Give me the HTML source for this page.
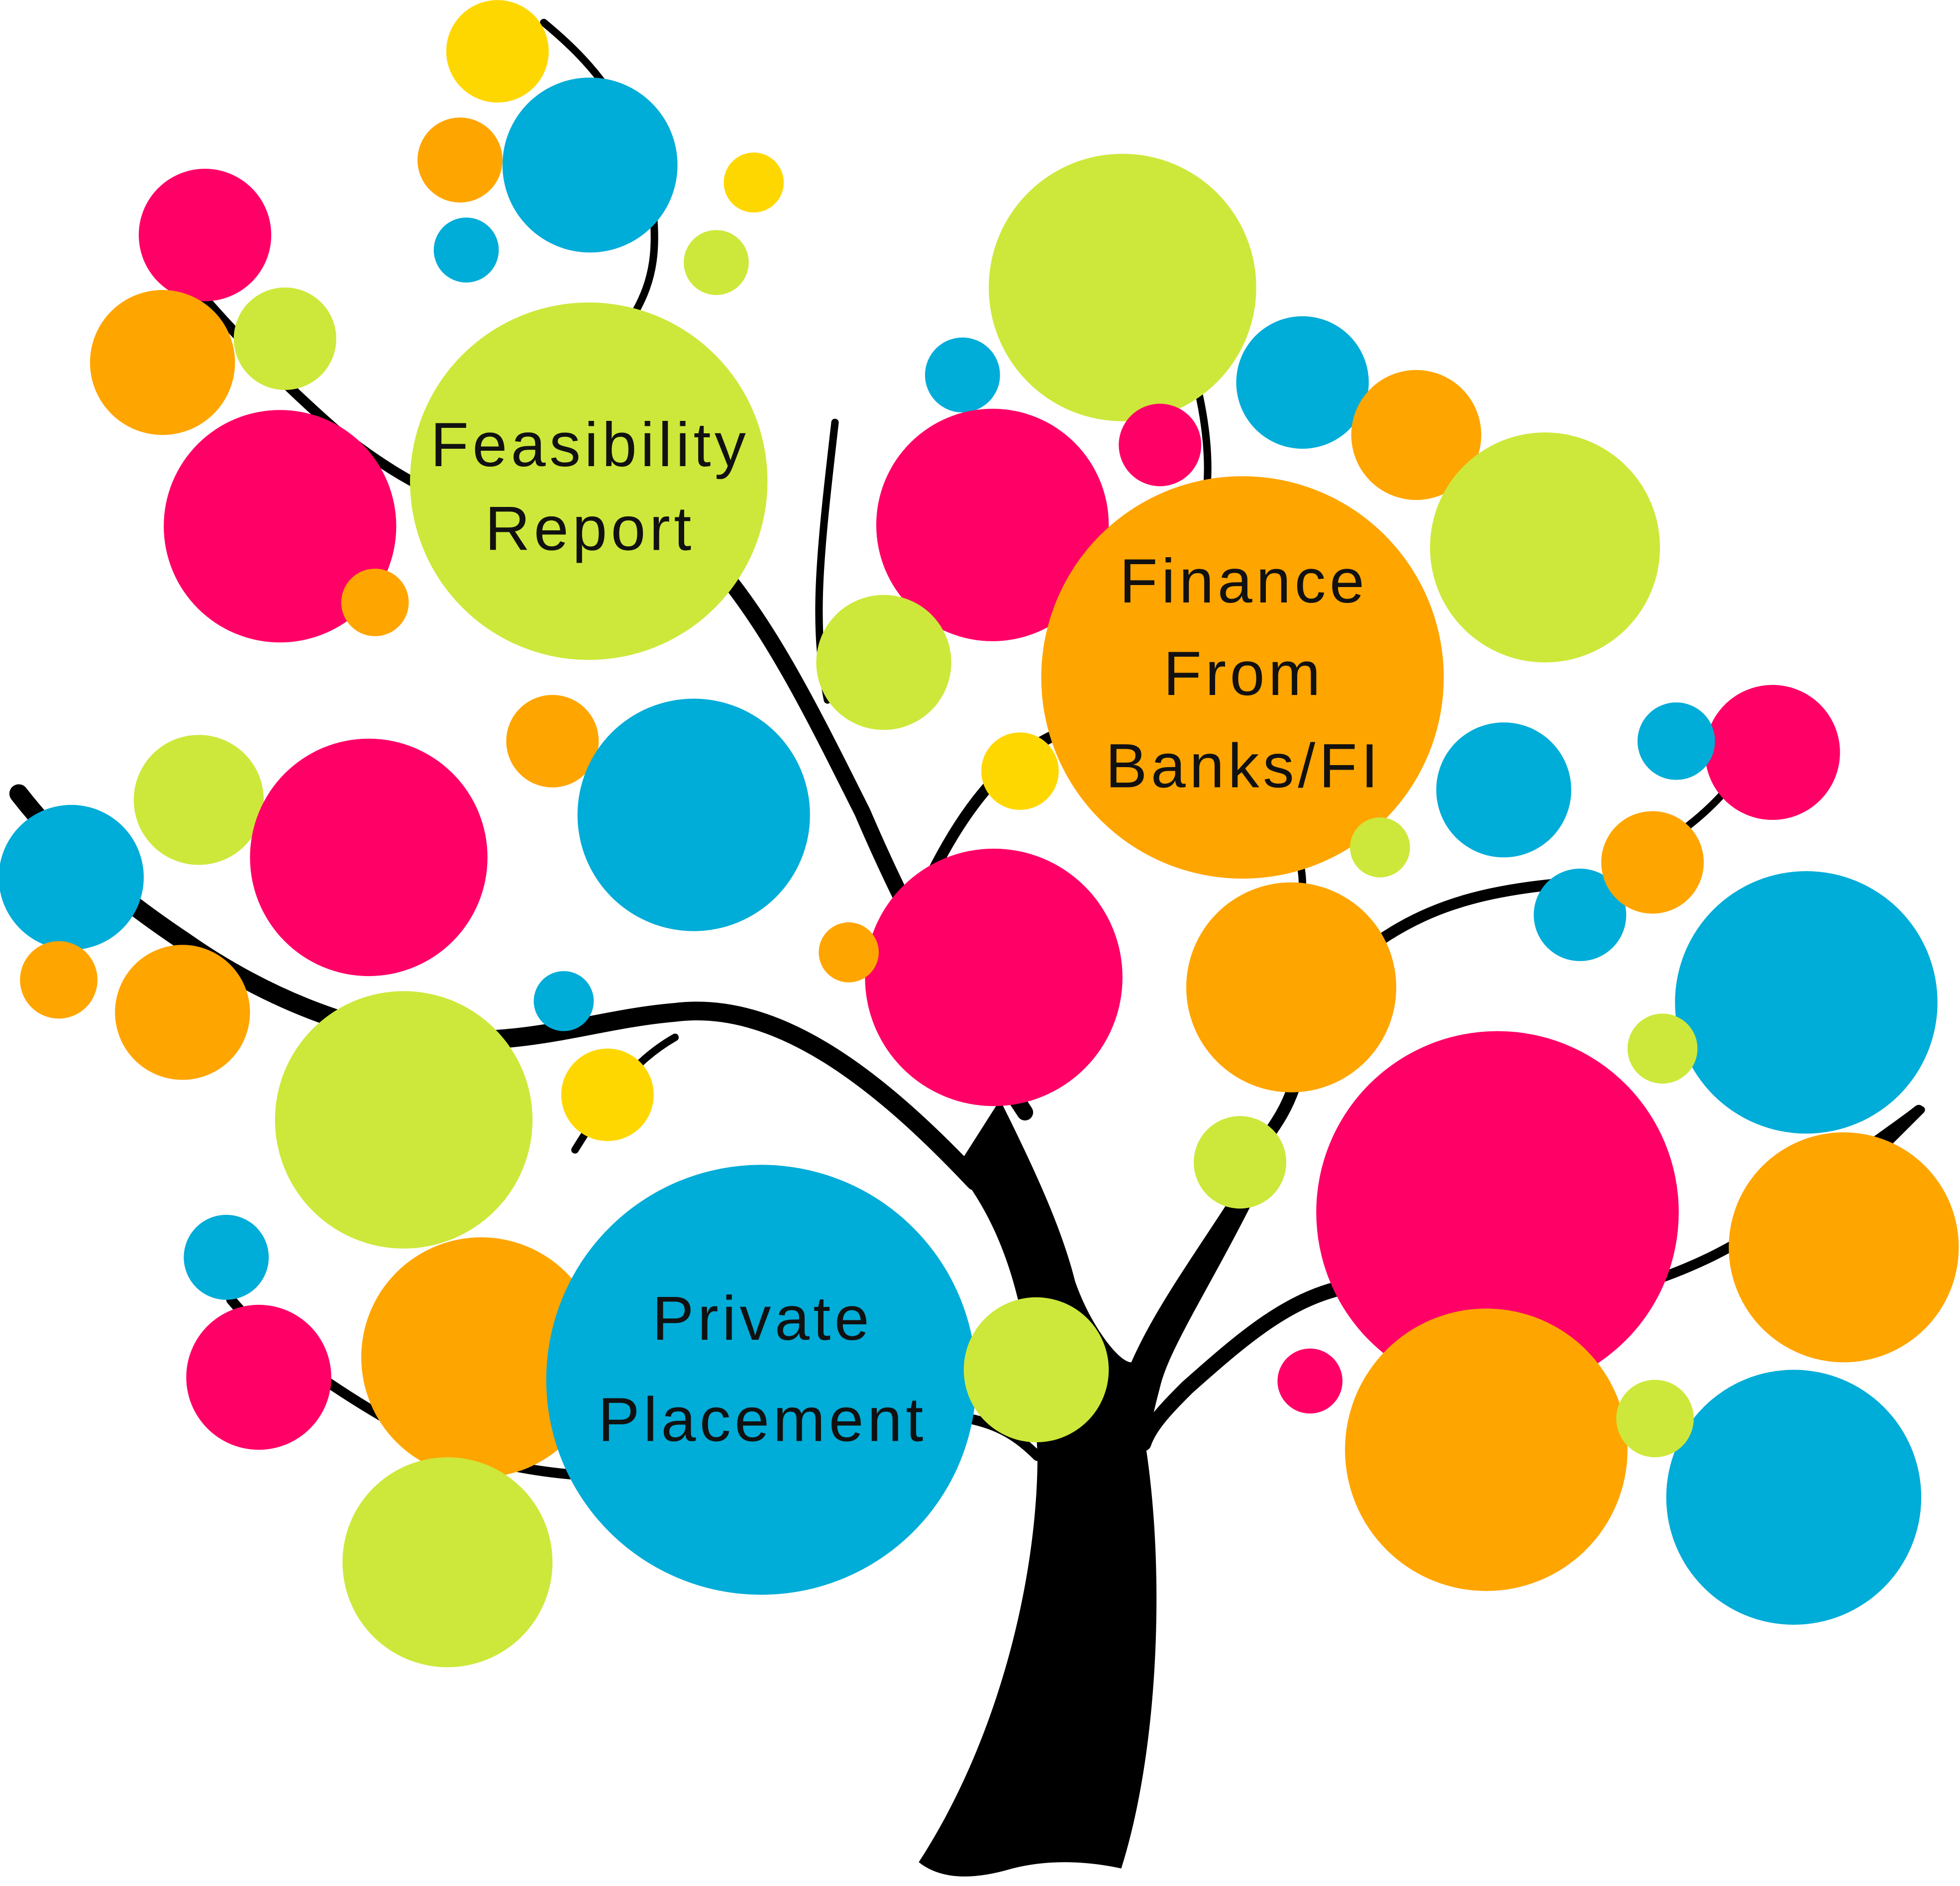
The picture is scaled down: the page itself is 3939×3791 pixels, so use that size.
<!DOCTYPE html>
<html><head><meta charset="utf-8"><style>
html,body{margin:0;padding:0;background:#fff;}
svg{display:block;}
text{font-family:"Liberation Sans",sans-serif;font-size:50px;fill:#111;text-anchor:middle;letter-spacing:3px;font-weight:normal;}
</style></head><body>
<svg width="3939" height="3791" viewBox="0 0 1568 1509" xmlns="http://www.w3.org/2000/svg">
<rect width="1568" height="1509" fill="#fff"/>
<g fill="none" stroke="#000" stroke-linecap="round">
<path d="M780,945 C700,860 620,800 540,810 C480,815 430,835 360,832 C280,830 200,790 150,755 C90,715 50,680 15,635" stroke-width="15"/>
<path d="M820,890 C760,800 720,720 690,650 C650,570 620,510 580,460" stroke-width="13"/>
<path d="M662,560 C650,500 655,450 668,338" stroke-width="6"/>
<path d="M745,700 C770,650 800,610 840,590" stroke-width="9"/>
<path d="M1100,755 C1150,720 1200,710 1275,705" stroke-width="9"/>
<path d="M1345,665 C1365,650 1380,635 1390,620" stroke-width="6"/>
<path d="M1075,1030 C1030,1040 995,1070 950,1110 C935,1125 920,1140 915,1155" stroke-width="12"/>
<path d="M1270,1040 C1350,1020 1400,995 1450,950 C1490,920 1520,900 1535,888" stroke-width="8"/>
<path d="M1500,925 C1520,905 1530,895 1537,888" stroke-width="6"/>
<path d="M460,1180 C400,1175 350,1160 300,1130 C250,1100 210,1070 185,1040" stroke-width="8"/>
<path d="M775,1135 C800,1140 815,1150 830,1165" stroke-width="8"/>
<path d="M958,310 C965,340 968,370 965,395" stroke-width="6"/>
<path d="M435,18 C480,55 505,90 520,150 C528,200 522,225 508,250" stroke-width="6"/>
<path d="M160,235 C190,270 230,310 270,345 C290,360 310,375 335,388" stroke-width="8"/>
<path d="M540,830 C505,850 485,880 460,920" stroke-width="6"/>
<path d="M1040,690 C1042,700 1042,705 1042,712" stroke-width="6"/>
<path d="M1035,870 C1028,890 1020,900 1010,915" stroke-width="10"/>
</g>
<path fill="#000" d="M735,1490 C800,1390 830,1260 830,1165 C825,1050 805,985 765,935 L 800,880 C 830,940 850,985 860,1025 C 872,1060 895,1090 905,1090 C 925,1045 955,1005 990,950 L 1002,962 C 965,1035 935,1080 928,1110 C 920,1140 917,1160 917,1160 C 932,1260 927,1400 897,1495 Q 850,1485 810,1495 Q 760,1510 735,1490 Z"/>
<g>
<circle cx="398" cy="41" r="41" fill="#FFD700"/>
<circle cx="368" cy="128" r="34" fill="#FFA500"/>
<circle cx="472" cy="132" r="70" fill="#00ACD8"/>
<circle cx="603" cy="146" r="24" fill="#FFD700"/>
<circle cx="373" cy="200" r="26" fill="#00ACD8"/>
<circle cx="573" cy="210" r="26" fill="#CDE83A"/>
<circle cx="164" cy="188" r="53" fill="#FF0066"/>
<circle cx="130" cy="290" r="58" fill="#FFA500"/>
<circle cx="228" cy="271" r="41" fill="#CDE83A"/>
<circle cx="224" cy="421" r="93" fill="#FF0066"/>
<circle cx="471" cy="385" r="143" fill="#CDE83A"/>
<circle cx="300" cy="482" r="27" fill="#FFA500"/>
<circle cx="898" cy="230" r="107" fill="#CDE83A"/>
<circle cx="770" cy="300" r="30" fill="#00ACD8"/>
<circle cx="1042" cy="306" r="53" fill="#00ACD8"/>
<circle cx="1133" cy="348" r="52" fill="#FFA500"/>
<circle cx="1236" cy="438" r="92" fill="#CDE83A"/>
<circle cx="794" cy="420" r="93" fill="#FF0066"/>
<circle cx="928" cy="356" r="33" fill="#FF0066"/>
<circle cx="994" cy="542" r="161" fill="#FFA500"/>
<circle cx="707" cy="530" r="54" fill="#CDE83A"/>
<circle cx="816" cy="617" r="31" fill="#FFD700"/>
<circle cx="1104" cy="678" r="24" fill="#CDE83A"/>
<circle cx="1203" cy="632" r="54" fill="#00ACD8"/>
<circle cx="1418" cy="602" r="54" fill="#FF0066"/>
<circle cx="1341" cy="593" r="31" fill="#00ACD8"/>
<circle cx="1264" cy="732" r="37" fill="#00ACD8"/>
<circle cx="1322" cy="690" r="41" fill="#FFA500"/>
<circle cx="1445" cy="802" r="105" fill="#00ACD8"/>
<circle cx="1330" cy="839" r="28" fill="#CDE83A"/>
<circle cx="159" cy="640" r="52" fill="#CDE83A"/>
<circle cx="295" cy="686" r="95" fill="#FF0066"/>
<circle cx="442" cy="593" r="37" fill="#FFA500"/>
<circle cx="555" cy="652" r="93" fill="#00ACD8"/>
<circle cx="57" cy="702" r="58" fill="#00ACD8"/>
<circle cx="47" cy="784" r="31" fill="#FFA500"/>
<circle cx="146" cy="810" r="54" fill="#FFA500"/>
<circle cx="795" cy="782" r="103" fill="#FF0066"/>
<circle cx="679" cy="762" r="24" fill="#FFA500"/>
<circle cx="1033" cy="790" r="84" fill="#FFA500"/>
<circle cx="451" cy="801" r="24" fill="#00ACD8"/>
<circle cx="323" cy="896" r="103" fill="#CDE83A"/>
<circle cx="486" cy="876" r="37" fill="#FFD700"/>
<circle cx="992" cy="930" r="37" fill="#CDE83A"/>
<circle cx="1198" cy="970" r="145" fill="#FF0066"/>
<circle cx="1475" cy="998" r="92" fill="#FFA500"/>
<circle cx="181" cy="1006" r="34" fill="#00ACD8"/>
<circle cx="207" cy="1102" r="58" fill="#FF0066"/>
<circle cx="385" cy="1086" r="96" fill="#FFA500"/>
<circle cx="358" cy="1250" r="84" fill="#CDE83A"/>
<circle cx="609" cy="1104" r="172" fill="#00ACD8"/>
<circle cx="829" cy="1096" r="58" fill="#CDE83A"/>
<circle cx="1189" cy="1160" r="113" fill="#FFA500"/>
<circle cx="1048" cy="1105" r="26" fill="#FF0066"/>
<circle cx="1435" cy="1198" r="102" fill="#00ACD8"/>
<circle cx="1324" cy="1135" r="31" fill="#CDE83A"/>
</g>
<text x="472" y="373">Feasibility</text>
<text x="472" y="440">Report</text>
<text x="995" y="482">Finance</text>
<text x="995" y="556">From</text>
<text x="995" y="630">Banks/FI</text>
<text x="610" y="1072">Private</text>
<text x="610" y="1153">Placement</text>
</svg>
</body></html>
